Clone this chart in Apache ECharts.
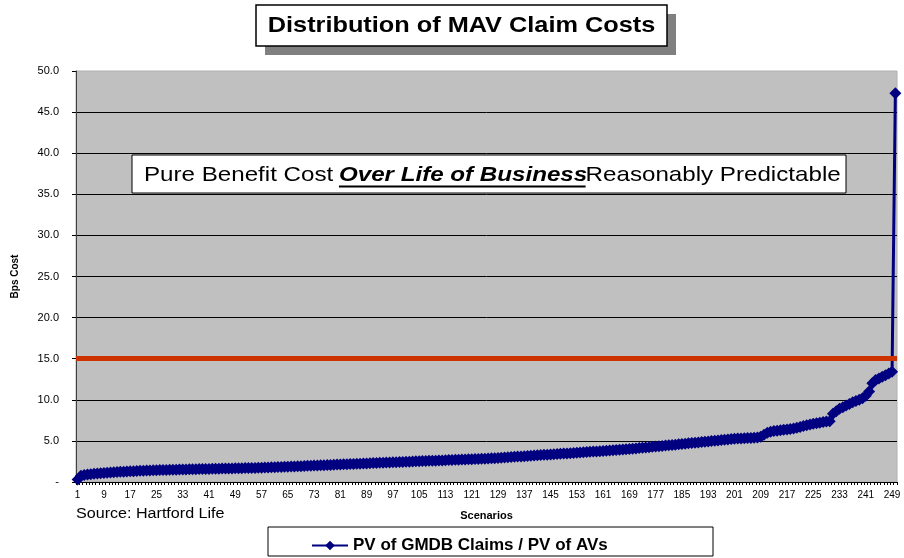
<!DOCTYPE html>
<html>
<head>
<meta charset="utf-8">
<script src="https://cdn.jsdelivr.net/npm/echarts@6/dist/echarts.min.js"></script>
<style>
  html, body { margin: 0; padding: 0; background: #fff; }
  #chart { width: 904px; height: 558px; }
</style>
</head>
<body>
<div id="chart"></div>
<script>
// sorted PV of GMDB claims / PV of AVs, bps, scenario 1..250
const claimCosts = [
  0.30, 0.75, 0.85, 0.90, 0.95, 1.00, 1.03, 1.06, 1.10, 1.13,
  1.16, 1.19, 1.22, 1.24, 1.26, 1.28, 1.30, 1.32, 1.34, 1.36,
  1.38, 1.40, 1.41, 1.42, 1.44, 1.45, 1.46, 1.47, 1.48, 1.49,
  1.50, 1.51, 1.52, 1.53, 1.54, 1.55, 1.56, 1.57, 1.58, 1.58,
  1.59, 1.60, 1.61, 1.62, 1.63, 1.64, 1.65, 1.65, 1.66, 1.67,
  1.68, 1.69, 1.70, 1.70, 1.71, 1.72, 1.74, 1.75, 1.77, 1.79,
  1.80, 1.82, 1.84, 1.85, 1.87, 1.89, 1.90, 1.92, 1.93, 1.95,
  1.97, 1.98, 2.00, 2.02, 2.03, 2.05, 2.07, 2.08, 2.10, 2.12,
  2.13, 2.15, 2.17, 2.18, 2.20, 2.21, 2.23, 2.25, 2.26, 2.28,
  2.30, 2.31, 2.33, 2.34, 2.36, 2.38, 2.39, 2.41, 2.43, 2.44,
  2.46, 2.47, 2.49, 2.51, 2.52, 2.54, 2.56, 2.57, 2.59, 2.60,
  2.62, 2.63, 2.65, 2.67, 2.68, 2.70, 2.71, 2.73, 2.74, 2.76,
  2.77, 2.79, 2.81, 2.82, 2.84, 2.86, 2.88, 2.90, 2.93, 2.95,
  2.98, 3.01, 3.03, 3.06, 3.09, 3.11, 3.14, 3.16, 3.19, 3.22,
  3.24, 3.27, 3.30, 3.32, 3.35, 3.38, 3.40, 3.43, 3.46, 3.48,
  3.51, 3.54, 3.56, 3.59, 3.62, 3.64, 3.67, 3.70, 3.72, 3.75,
  3.78, 3.80, 3.83, 3.86, 3.89, 3.92, 3.95, 3.99, 4.02, 4.06,
  4.09, 4.13, 4.17, 4.20, 4.24, 4.28, 4.31, 4.35, 4.39, 4.43,
  4.46, 4.50, 4.54, 4.58, 4.62, 4.66, 4.70, 4.74, 4.78, 4.82,
  4.86, 4.90, 4.94, 4.98, 5.02, 5.06, 5.10, 5.14, 5.18, 5.22,
  5.25, 5.28, 5.30, 5.32, 5.34, 5.36, 5.38, 5.42, 5.52, 5.75,
  6.00, 6.10, 6.20, 6.25, 6.30, 6.35, 6.40, 6.45, 6.50, 6.60,
  6.70, 6.80, 6.90, 7.00, 7.10, 7.15, 7.20, 7.30, 7.35, 7.40,
  8.30, 8.60, 8.90, 9.10, 9.30, 9.50, 9.70, 9.85, 10.00, 10.20,
  10.50, 11.00, 12.00, 12.40, 12.60, 12.80, 13.00, 13.20, 13.40, 47.30
]

// scenario numbers used as categories
const scenarios = claimCosts.map((_, i) => String(i + 1))

const thresholdBps = 15
const yMin = 0
const yMax = 50
const yStep = 5

const seriesName = 'PV of GMDB Claims / PV of AVs'
const FONT = '"Liberation Sans", Arial, sans-serif'

const chart = echarts.init(document.getElementById('chart'))

chart.setOption({
  animation: false,
  textStyle: { fontFamily: FONT, color: '#000' },
  grid: {
    left: 76, right: 7, top: 71, bottom: 76,
    show: true,
    backgroundColor: '#C0C0C0',
    borderColor: '#b0b0b0',
    borderWidth: 1
  },
  xAxis: {
    type: 'category',
    data: scenarios,
    boundaryGap: true,
    name: 'Scenarios',
    nameLocation: 'middle',
    nameGap: 28,
    nameTextStyle: { fontFamily: FONT, fontSize: 11, fontWeight: 'bold', color: '#000' },
    axisLine: { lineStyle: { color: '#000', width: 1 } },
    axisTick: { show: true, interval: 0, length: 3, lineStyle: { color: '#000' } },
    axisLabel: { interval: 7, fontSize: 10, color: '#000', margin: 8, fontFamily: FONT },
    splitLine: { show: false }
  },
  yAxis: {
    type: 'value',
    min: yMin,
    max: yMax,
    interval: yStep,
    name: 'Bps Cost',
    nameLocation: 'middle',
    nameGap: 56,
    nameRotate: 90,
    nameTextStyle: { fontFamily: FONT, fontSize: 10, fontWeight: 'bold', color: '#000' },
    axisLine: { show: true, lineStyle: { color: '#404040', width: 1 } },
    axisTick: { show: true, length: 4, lineStyle: { color: '#000' } },
    axisLabel: {
      fontSize: 11, color: '#000', margin: 17, fontFamily: FONT,
      formatter: v => (v === 0 ? '-' : v.toFixed(1))
    },
    splitLine: { show: true, showMaxLine: false, showMinLine: false, lineStyle: { color: '#000', width: 1 } }
  },
  legend: {
    left: 306,
    top: 532,
    itemWidth: 36,
    itemHeight: 12,
    itemGap: 6,
    data: [seriesName],
    textStyle: { fontFamily: FONT, fontSize: 17, fontWeight: 'bold', color: '#000' }
  },
  series: [{
    name: seriesName,
    type: 'line',
    data: claimCosts,
    showAllSymbol: true,
    symbol: 'diamond',
    symbolSize: 12,
    itemStyle: { color: '#000080' },
    lineStyle: { color: '#000080', width: 3 },
    markLine: {
      silent: true,
      symbol: ['none', 'none'],
      label: { show: false },
      lineStyle: { color: '#CC3300', width: 5, type: 'solid' },
      data: [{ yAxis: thresholdBps }]
    }
  }],
  graphic: [
    // title box with drop shadow
    { type: 'rect', shape: { x: 265, y: 14, width: 411, height: 41 }, style: { fill: '#808080' }, z: 10 },
    { type: 'rect', shape: { x: 256, y: 5, width: 411, height: 41 }, style: { fill: '#fff', stroke: '#000', lineWidth: 1.5 }, z: 11 },
    {
      type: 'text', x: 461.5, y: 26, scaleX: 1.15, z: 12,
      style: {
        text: 'Distribution of MAV Claim Costs', fill: '#000',
        font: 'bold 22px ' + FONT, textAlign: 'center', textVerticalAlign: 'middle'
      }
    },
    // annotation box
    { type: 'rect', shape: { x: 132, y: 155, width: 714, height: 38 }, style: { fill: '#fff', stroke: '#000', lineWidth: 1 }, z: 10 },
    {
      type: 'group', x: 144, y: 175, scaleX: 1.15, z: 11,
      children: [
        { type: 'text', x: 0, y: 0, style: { text: 'Pure Benefit Cost', fill: '#000', font: '21px ' + FONT, textVerticalAlign: 'middle' }, z: 11 },
        { type: 'text', x: 169.5, y: 0, style: { text: 'Over Life of Business', fill: '#000', font: 'italic bold 21px ' + FONT, textVerticalAlign: 'middle' }, z: 11 },
        { type: 'line', shape: { x1: 169.5, y1: 11.5, x2: 384, y2: 11.5 }, style: { stroke: '#000', lineWidth: 2 }, z: 11 },
        { type: 'text', x: 384, y: 0, style: { text: 'Reasonably Predictable', fill: '#000', font: '21px ' + FONT, textVerticalAlign: 'middle' }, z: 11 }
      ]
    },
    // source note
    {
      type: 'text', x: 76, y: 514, scaleX: 1.15,
      style: { text: 'Source: Hartford Life', fill: '#000', font: '14px ' + FONT, textVerticalAlign: 'middle' }
    },
    // legend frame
    { type: 'rect', shape: { x: 268, y: 527, width: 445, height: 29 }, style: { fill: 'none', stroke: '#000', lineWidth: 1 }, z: 1 }
  ]
})
</script>
</body>
</html>
